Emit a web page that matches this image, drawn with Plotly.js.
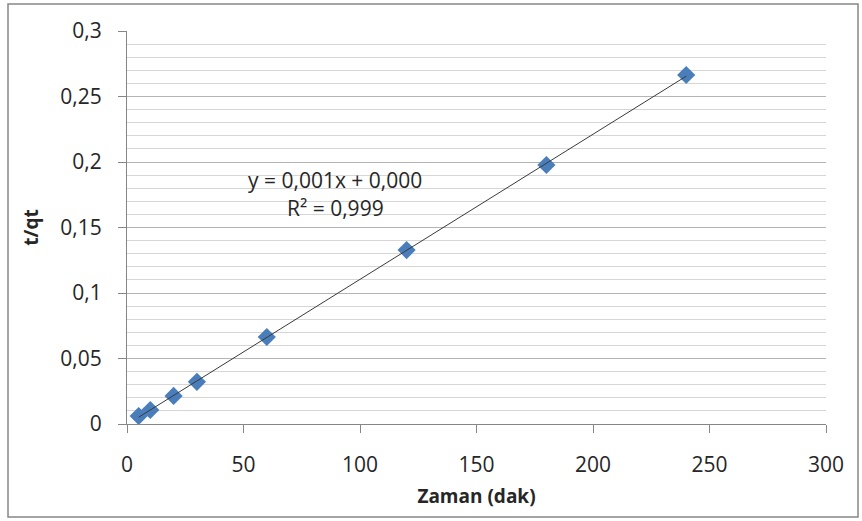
<!DOCTYPE html>
<html>
<head>
<meta charset="utf-8">
<script src="https://cdn.plot.ly/plotly-3.0.1.min.js"></script>
<style>
  html, body { margin: 0; padding: 0; background: #ffffff; }
  #chart { width: 862px; height: 521px; }
</style>
</head>
<body>
<div id="chart"></div>
<script>
// Sorption kinetics: t/qt against time (pseudo-second-order plot)
const timeMin = [5, 10, 20, 30, 60, 120, 180, 240];
const tOverQt = [0.0061, 0.0107, 0.0214, 0.0322, 0.0664, 0.1328, 0.1977, 0.2664];
const yTickVals = [0, 0.05, 0.1, 0.15, 0.2, 0.25, 0.3];
const yTickText = ['0', '0,05', '0,1', '0,15', '0,2', '0,25', '0,3'];
const xTickVals = [0, 50, 100, 150, 200, 250, 300];
const equationText = 'y = 0,001x + 0,000';
const r2Text = 'R² = 0,999';

// Least-squares linear trend line over the measured range
const n = timeMin.length;
const mx = timeMin.reduce((a, b) => a + b, 0) / n;
const my = tOverQt.reduce((a, b) => a + b, 0) / n;
let sxy = 0, sxx = 0;
for (let i = 0; i < n; i++) {
  sxy += (timeMin[i] - mx) * (tOverQt[i] - my);
  sxx += (timeMin[i] - mx) ** 2;
}
const slope = sxy / sxx;
const intercept = my - slope * mx;
const trendX = [Math.min(...timeMin), Math.max(...timeMin)];
const trendY = trendX.map(x => intercept + slope * x);

const font = '"Open Sans", Lato, Arial, sans-serif';
const textColor = '#262626';

const traces = [
  {
    x: timeMin, y: tOverQt, type: 'scatter', mode: 'markers',
    marker: { symbol: 'diamond', size: 14, color: '#4a7ebb', line: { width: 0 } },
    hoverinfo: 'x+y'
  },
  {
    x: trendX, y: trendY, type: 'scatter', mode: 'lines',
    line: { color: '#3a3a3a', width: 1 },
    hoverinfo: 'skip'
  }
];

const layout = {
  width: 862, height: 521,
  margin: { l: 127, r: 36, t: 31, b: 97 },
  paper_bgcolor: '#ffffff', plot_bgcolor: '#ffffff',
  showlegend: false,
  font: { family: font, size: 21, color: textColor },
  xaxis: {
    range: [0, 300],
    tickvals: xTickVals,
    ticks: 'outside', ticklen: 8, tickcolor: '#868686', tickwidth: 1,
    ticklabelstandoff: 14,
    showgrid: false, zeroline: false,
    showline: true, linecolor: '#868686', linewidth: 1,
    tickfont: { family: font, size: 21, color: textColor },
    title: { text: '<b>Zaman (dak)</b>', font: { family: font, size: 19, color: textColor }, standoff: 12 },
    fixedrange: true
  },
  yaxis: {
    range: [0, 0.3],
    tickvals: yTickVals, ticktext: yTickText,
    ticks: 'outside', ticklen: 8, tickcolor: '#868686', tickwidth: 1,
    ticklabelstandoff: 12,
    showgrid: true, gridcolor: '#b4b4b4', gridwidth: 1,
    minor: { dtick: 0.01, showgrid: true, gridcolor: '#d6d6d6', gridwidth: 1, ticks: '' },
    zeroline: false,
    showline: true, linecolor: '#868686', linewidth: 1,
    tickfont: { family: font, size: 21, color: textColor },
    title: { text: '<b>t/qt</b>', font: { family: font, size: 19, color: textColor }, standoff: 16 },
    fixedrange: true
  },
  annotations: [
    { x: 89.3, y: 0.1863, xref: 'x', yref: 'y', text: equationText, showarrow: false,
      font: { family: font, size: 21, color: textColor } },
    { x: 89.3, y: 0.1649, xref: 'x', yref: 'y', text: r2Text, showarrow: false,
      font: { family: font, size: 21, color: textColor } }
  ],
  shapes: [
    { type: 'rect', xref: 'paper', yref: 'paper',
      x0: (8 - 127) / 699, x1: (858 - 127) / 699,
      y0: (424 - 517) / 393, y1: (424 - 4) / 393,
      line: { color: '#868686', width: 1.5 }, layer: 'below' }
  ]
};

Plotly.newPlot('chart', traces, layout, { displayModeBar: false, staticPlot: true });
</script>
</body>
</html>
